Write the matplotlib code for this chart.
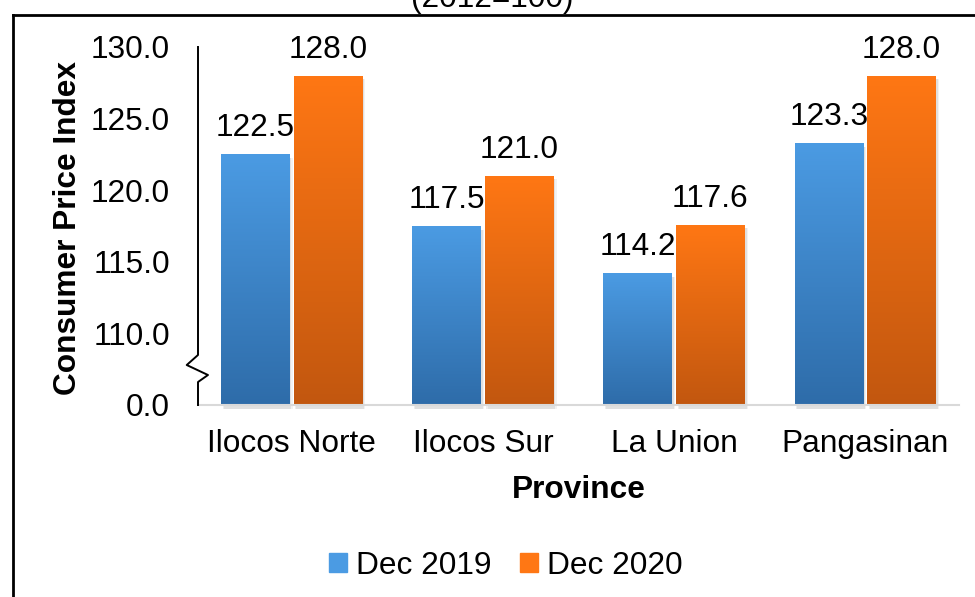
import matplotlib
matplotlib.use("Agg")
import matplotlib.pyplot as plt
import numpy as np
from matplotlib.colors import to_rgb
from matplotlib.lines import Line2D
from matplotlib.patches import Rectangle

provinces = ["Ilocos Norte", "Ilocos Sur", "La Union", "Pangasinan"]
dec2019 = [122.5, 117.5, 114.2, 123.3]
dec2020 = [128.0, 121.0, 117.6, 128.0]
series_names = ["Dec 2019", "Dec 2020"]
ytick_vals = [105, 110, 115, 120, 125, 130]
ytick_labels = ["0.0", "110.0", "115.0", "120.0", "125.0", "130.0"]

plt.rcParams["font.family"] = ["Liberation Sans", "DejaVu Sans"]

BLUE_TOP, BLUE_BOT = "#4B9BE3", "#2E6CA9"
ORANGE_TOP, ORANGE_BOT = "#FF7714", "#C2570F"
FS = 22.8


def gradient_fill(ax, bars, top, bottom):
    c0, c1 = np.array(to_rgb(top)), np.array(to_rgb(bottom))
    t = np.linspace(0, 1, 256)[:, None, None]
    grad = c0 * (1 - t) + c1 * t
    for b in bars:
        x0, y0 = b.get_x(), b.get_y()
        x1, y1 = x0 + b.get_width(), y0 + b.get_height()
        # soft shadow
        for k, a in [(0.06, 0.05), (0.035, 0.07)]:
            ax.add_patch(Rectangle((x0 + k * 0.25, y0 - 0.25), b.get_width(),
                                   b.get_height(), color="black", alpha=a,
                                   zorder=1.5, linewidth=0, clip_on=False))
        im = ax.imshow(grad, extent=[x0, x1, y0, y1], origin="upper",
                       aspect="auto", zorder=2, interpolation="bilinear")
        im.set_clip_path(b)
        b.set_facecolor("none")


fig = plt.figure(figsize=(9.75, 5.97), dpi=100)
ax = fig.add_axes([198 / 975, 1 - 405 / 597, 761 / 975, 358 / 597])

x = np.arange(len(provinces))
w, off = 0.36, 0.19
base = ytick_vals[0]
b1 = ax.bar(x - off, np.array(dec2019) - base, w, bottom=base, linewidth=0, zorder=2)
b2 = ax.bar(x + off, np.array(dec2020) - base, w, bottom=base, linewidth=0, zorder=2)
gradient_fill(ax, b1, BLUE_TOP, BLUE_BOT)
gradient_fill(ax, b2, ORANGE_TOP, ORANGE_BOT)

for bars, vals in [(b1, dec2019), (b2, dec2020)]:
    for b, v in zip(bars, vals):
        ax.annotate(f"{v:.1f}", (b.get_x() + b.get_width() / 2, v),
                    xytext=(0, 13), textcoords="offset points",
                    ha="center", va="baseline", fontsize=FS)

ax.set_xlim(-0.49, 3.49)
ax.set_ylim(105, 130)
ax.set_yticks(ytick_vals)
ax.set_yticklabels(ytick_labels)
ax.set_xticks(x)
ax.set_xticklabels(provinces)
ax.tick_params(axis="both", length=0, labelsize=FS)
ax.tick_params(axis="y", pad=20)
ax.tick_params(axis="x", pad=17)

for s in ["top", "right", "left"]:
    ax.spines[s].set_visible(False)
ax.spines["bottom"].set_color("#D9D9D9")
ax.spines["bottom"].set_linewidth(1.5)

# left axis with break marker
bx = [0, 0, -0.0148, 0.0131, 0, 0]
by = [1, 0.1397, 0.1117, 0.0838, 0.0642, 0]
ax.plot(bx, by, color="black", linewidth=1.4, transform=ax.transAxes,
        clip_on=False, zorder=5)

ax.set_xlabel("Province", fontsize=FS, fontweight="bold", labelpad=12)
ax.set_ylabel("Consumer Price Index", fontsize=FS, fontweight="bold")
ax.yaxis.set_label_coords(-0.151, 0.494)

handles = [Rectangle((0, 0), 1, 1, color=BLUE_TOP), Rectangle((0, 0), 1, 1, color=ORANGE_TOP)]
fig.legend(handles, series_names, loc="center", bbox_to_anchor=(506 / 975, 1 - 566 / 597),
           ncol=2, frameon=False, fontsize=FS, handlelength=0.55, handleheight=0.55,
           handletextpad=0.3, columnspacing=0.9)

# chart title, mostly cut off at the top of the image
fig.text(492 / 975, 1 - 7 / 597, "(2012=100)", ha="center", va="baseline", fontsize=FS)

# chart border
fig.add_artist(Line2D([13 / 975, 13 / 975], [0, 1 - 15 / 597], color="black",
                      linewidth=2, transform=fig.transFigure))
fig.add_artist(Line2D([13 / 975, 1], [1 - 15 / 597, 1 - 15 / 597], color="black",
                      linewidth=2, transform=fig.transFigure))

fig.savefig("out.png", dpi=100, facecolor="white")
